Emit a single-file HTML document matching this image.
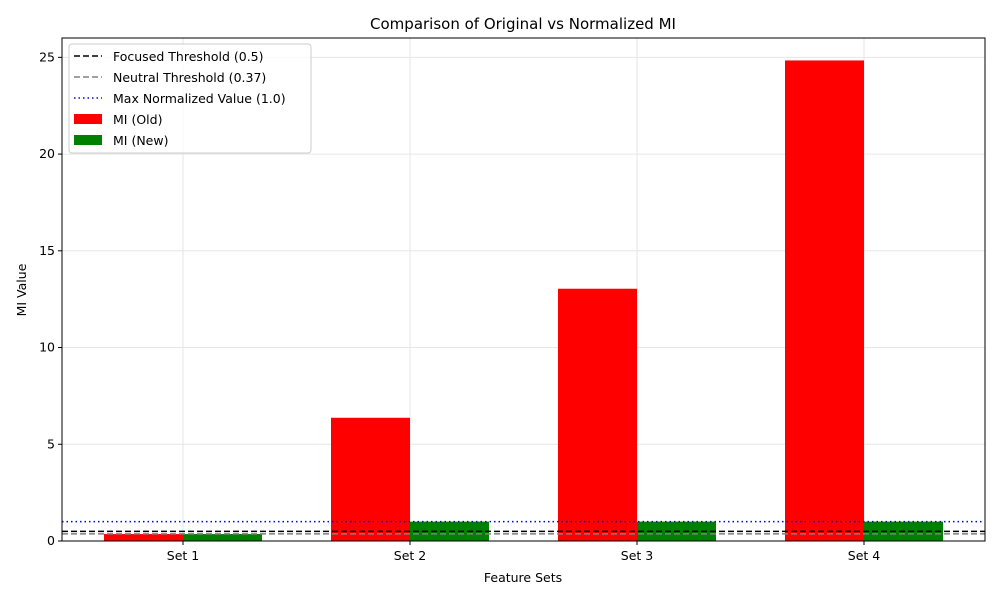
<!DOCTYPE html>
<html><head><meta charset="utf-8"><style>
body{margin:0;background:#fff;font-family:"Liberation Sans","DejaVu Sans",sans-serif}
</style></head><body>
<svg id="c" width="1000" height="600" xmlns="http://www.w3.org/2000/svg" font-family="DejaVu Sans, Liberation Sans, sans-serif">
<rect width="1000" height="600" fill="#fff"/>
</svg>
<script>
const categories=["Set 1","Set 2","Set 3","Set 4"];
const miOld=[0.36,6.37,13.04,24.84];
const miNew=[0.36,1.0,1.0,1.0];
const yTicks=[0,5,10,15,20,25];
const thresholds=[0.5,0.37,1.0];
const svg=document.getElementById('c');
const NS='http://www.w3.org/2000/svg';
const L=62,R=985,T=38,B=541,yMax=26;
const y=v=>B-(v/yMax)*(B-T);
const step=227,x0=183;
const xc=i=>x0+i*step;
const bw=79;
function mk(t,a,p){const e=document.createElementNS(NS,t);for(const k in a)e.setAttribute(k,a[k]);(p||svg).appendChild(e);return e;}
// grid
yTicks.forEach(v=>{const g=mk('line',{x1:L,x2:R,y1:y(v),y2:y(v),stroke:'#e6e6e6','stroke-width':1});

});
categories.forEach((c,i)=>{const g=mk('line',{x1:xc(i),x2:xc(i),y1:T,y2:B,stroke:'#e6e6e6','stroke-width':1});

});
// bars
categories.forEach((c,i)=>{
const r1=mk('rect',{x:xc(i)-bw,y:y(miOld[i]),width:bw,height:B-y(miOld[i]),fill:'#ff0000'});


const r2=mk('rect',{x:xc(i),y:y(miNew[i]),width:bw,height:B-y(miNew[i]),fill:'#008000'});


});
// threshold lines
const tStyles=[{s:'#000',d:'6,3'},{s:'#808080',d:'6,3'},{s:'#0000ff',d:'1.5,3'}];
const tNames=['focused-threshold-line','neutral-threshold-line','max-normalized-line'];
thresholds.forEach((v,i)=>{const l=mk('line',{x1:L,x2:R,y1:y(v),y2:y(v),stroke:tStyles[i].s,'stroke-width':1.5,'stroke-dasharray':tStyles[i].d});

});
// axes frame
const f=mk('rect',{x:L,y:T,width:R-L,height:B-T,fill:'none',stroke:'#000','stroke-width':1});


yTicks.forEach(v=>{mk('line',{x1:L-4,x2:L,y1:y(v),y2:y(v),stroke:'#000'});
const t=mk('text',{x:L-7,y:y(v)+4,'text-anchor':'end','font-size':12.5});t.textContent=v;

});
categories.forEach((c,i)=>{mk('line',{x1:xc(i),x2:xc(i),y1:B,y2:B+4,stroke:'#000'});
const t=mk('text',{x:xc(i),y:B+19,'text-anchor':'middle','font-size':12.5});t.textContent=c;

});
</script>
<svg width="1000" height="600" style="position:absolute;left:0;top:0" xmlns="http://www.w3.org/2000/svg" font-family="DejaVu Sans, Liberation Sans, sans-serif">
<text x="523" y="29" text-anchor="middle" font-size="15">Comparison of Original vs Normalized MI</text>
<text x="523" y="582" text-anchor="middle" font-size="12.5">Feature Sets</text>
<text x="26" y="290" text-anchor="middle" font-size="12.5" transform="rotate(-90 26 290)">MI Value</text>
<g>
<rect x="69" y="44" width="242" height="109" rx="3" fill="#fff" fill-opacity="0.8" stroke="#ccc"/>
<g><line x1="74" x2="102" y1="56" y2="56" stroke="#000" stroke-width="1.5" stroke-dasharray="6,3"/><text x="113" y="61" font-size="12.5">Focused Threshold (0.5)</text></g>
<g><line x1="74" x2="102" y1="77" y2="77" stroke="#808080" stroke-width="1.5" stroke-dasharray="6,3"/><text x="113" y="82" font-size="12.5">Neutral Threshold (0.37)</text></g>
<g><line x1="74" x2="102" y1="98" y2="98" stroke="#0000ff" stroke-width="1.5" stroke-dasharray="1.5,3"/><text x="113" y="103" font-size="12.5">Max Normalized Value (1.0)</text></g>
<g><rect x="74" y="114" width="28" height="10" fill="#ff0000"/><text x="113" y="124" font-size="12.5">MI (Old)</text></g>
<g><rect x="74" y="135" width="28" height="10" fill="#008000"/><text x="113" y="145" font-size="12.5">MI (New)</text></g>
</g>
</svg>
</body></html>
